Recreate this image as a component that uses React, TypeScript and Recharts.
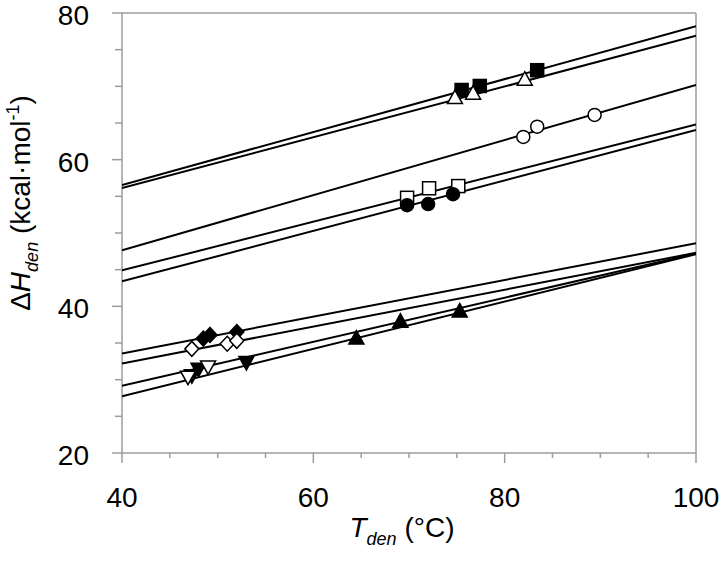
import { Label, ReferenceLine, Scatter, ScatterChart, XAxis, YAxis } from 'recharts'

if (typeof document !== 'undefined') document.body.style.margin = '0'

const AXIS = '#9c9c9c'
const FONT = '"Liberation Sans", Arial, sans-serif'

// x-axis ticks (T_den, °C) and y-axis ticks (ΔH_den, kcal/mol)
const X_TICKS = [40, 45, 50, 55, 60, 65, 70, 75, 80, 85, 90, 95, 100]
const Y_TICKS = [20, 25, 30, 35, 40, 45, 50, 55, 60, 65, 70, 75, 80]

// linear fits: value at T=40 and at T=100
const FIT_X = [40, 100]
const FIT_START = [56.55, 56.13, 47.65, 44.9, 43.4, 33.58, 32.21, 29.16, 27.75]
const FIT_END = [78.2, 76.9, 70.2, 64.8, 64.05, 48.6, 47.3, 47.2, 47.1]

const filledSquareT = [75.5, 77.4, 83.4]
const filledSquareH = [69.5, 70.05, 72.2]
const openTriUpT = [74.8, 76.7, 82.1]
const openTriUpH = [68.4, 69.0, 70.9]
const openCircleT = [81.95, 83.4, 89.4]
const openCircleH = [63.1, 64.5, 66.1]
const openSquareT = [69.8, 72.1, 75.15]
const openSquareH = [54.8, 56.1, 56.4]
const filledCircleT = [69.8, 72.0, 74.6]
const filledCircleH = [53.8, 53.95, 55.3]
const filledDiamondT = [48.5, 49.2, 52.0]
const filledDiamondH = [35.6, 36.1, 36.5]
const openDiamondT = [47.3, 51.0, 52.0]
const openDiamondH = [34.2, 34.9, 35.3]
const filledTriDownT = [47.3, 48.0, 53.0]
const filledTriDownH = [30.6, 31.5, 32.4]
const openTriDownT = [46.9, 49.0]
const openTriDownH = [30.4, 31.8]
const filledTriUpT = [64.5, 69.1, 75.3]
const filledTriUpH = [35.6, 37.9, 39.3]

type Pt = { x: number; y: number }
const zip = (xs: number[], ys: number[]): Pt[] => xs.map((x, i) => ({ x, y: ys[i] }))

type Kind = 'square' | 'circle' | 'triUp' | 'triDown' | 'diamond'

function marker(kind: Kind, filled: boolean) {
  return (props: any) => {
    const { cx, cy } = props
    const fill = filled ? '#000' : '#fff'
    const common = { fill, stroke: '#000', strokeWidth: 1.5 }
    if (kind === 'square') return <rect x={cx - 6.5} y={cy - 6.5} width={13} height={13} {...common} />
    if (kind === 'circle') return <circle cx={cx} cy={cy} r={6.5} {...common} />
    if (kind === 'diamond')
      return <polygon points={`${cx},${cy - 7.5} ${cx + 7},${cy} ${cx},${cy + 7.5} ${cx - 7},${cy}`} {...common} />
    if (kind === 'triUp')
      return <polygon points={`${cx},${cy - 8} ${cx + 7.5},${cy + 5.5} ${cx - 7.5},${cy + 5.5}`} {...common} />
    return <polygon points={`${cx},${cy + 8} ${cx + 7.5},${cy - 5.5} ${cx - 7.5},${cy - 5.5}`} {...common} />
  }
}

const SERIES: Array<{ name: string; data: Pt[]; kind: Kind; filled: boolean }> = [
  { name: 'filledSquare', data: zip(filledSquareT, filledSquareH), kind: 'square', filled: true },
  { name: 'openTriUp', data: zip(openTriUpT, openTriUpH), kind: 'triUp', filled: false },
  { name: 'openCircle', data: zip(openCircleT, openCircleH), kind: 'circle', filled: false },
  { name: 'openSquare', data: zip(openSquareT, openSquareH), kind: 'square', filled: false },
  { name: 'filledCircle', data: zip(filledCircleT, filledCircleH), kind: 'circle', filled: true },
  { name: 'filledDiamond', data: zip(filledDiamondT, filledDiamondH), kind: 'diamond', filled: true },
  { name: 'openDiamond', data: zip(openDiamondT, openDiamondH), kind: 'diamond', filled: false },
  { name: 'filledTriDown', data: zip(filledTriDownT, filledTriDownH), kind: 'triDown', filled: true },
  { name: 'openTriDown', data: zip(openTriDownT, openTriDownH), kind: 'triDown', filled: false },
  { name: 'filledTriUp', data: zip(filledTriUpT, filledTriUpH), kind: 'triUp', filled: true },
]

function XTick({ x, y, payload }: any) {
  const v = payload.value
  const major = v % 20 === 0
  return (
    <g>
      <line x1={x} x2={x} y1={y} y2={y + (major ? 10 : 5)} stroke={AXIS} strokeWidth={1.5} />
      {major && (
        <text x={x} y={y + 54} textAnchor="middle" fontSize={28} fontFamily={FONT} fill="#000">
          {v}
        </text>
      )}
    </g>
  )
}

function YTick({ x, y, payload }: any) {
  const v = payload.value
  const major = v % 20 === 0
  return (
    <g>
      <line x1={x - (major ? 10 : 7)} x2={x} y1={y} y2={y} stroke={AXIS} strokeWidth={1.5} />
      {major && (
        <text x={x - 33} y={y + 12} textAnchor="end" fontSize={28} fontFamily={FONT} fill="#000">
          {v}
        </text>
      )}
    </g>
  )
}

function XTitle({ viewBox }: any) {
  const cx = viewBox.x + viewBox.width / 2 - 7
  return (
    <text x={cx} y={viewBox.y + 84} textAnchor="middle" fontSize={28} fontFamily={FONT} fill="#000">
      <tspan fontStyle="italic">T</tspan>
      <tspan fontStyle="italic" fontSize={18} dy={8}>den</tspan>
      <tspan dy={-8}> (°C)</tspan>
    </text>
  )
}

function YTitle({ viewBox }: any) {
  const cy = viewBox.y + viewBox.height / 2 - 30
  const x = 30
  return (
    <text
      x={x}
      y={cy}
      transform={`rotate(-90 ${x} ${cy})`}
      textAnchor="middle"
      fontSize={28}
      fontFamily={FONT}
      fill="#000"
    >
      <tspan>Δ</tspan>
      <tspan fontStyle="italic">H</tspan>
      <tspan fontStyle="italic" fontSize={18} dy={8}>den</tspan>
      <tspan dy={-8}> (kcal·mol</tspan>
      <tspan fontSize={18} dy={-11}>-1</tspan>
      <tspan dy={11}>)</tspan>
    </text>
  )
}

export default function App() {
  return (
    <ScatterChart width={720} height={565} margin={{ top: 13, right: 24, bottom: 0, left: 0 }}>
      <XAxis
        type="number"
        dataKey="x"
        domain={[40, 100]}
        ticks={X_TICKS}
        interval={0}
        height={112}
        tickSize={0}
        tickMargin={0}
        tickLine={false}
        axisLine={{ stroke: AXIS, strokeWidth: 1.5 }}
        tick={XTick}
        allowDataOverflow
      >
        <Label content={XTitle} />
      </XAxis>
      <YAxis
        type="number"
        dataKey="y"
        domain={[20, 80]}
        ticks={Y_TICKS}
        interval={0}
        width={122}
        tickSize={0}
        tickMargin={0}
        tickLine={false}
        axisLine={{ stroke: AXIS, strokeWidth: 1.5 }}
        tick={YTick}
        allowDataOverflow
      >
        <Label content={YTitle} />
      </YAxis>
      <ReferenceLine y={80} stroke={AXIS} strokeWidth={1.5} />
      <ReferenceLine x={100} stroke={AXIS} strokeWidth={1.5} />
      {FIT_START.map((start, i) => (
        <Scatter
          key={`fit${i}`}
          data={zip(FIT_X, [start, FIT_END[i]])}
          line={{ stroke: '#000', strokeWidth: 2 }}
          shape={() => <g />}
          isAnimationActive={false}
        />
      ))}
      {SERIES.map((s) => (
        <Scatter
          key={s.name}
          name={s.name}
          data={s.data}
          shape={marker(s.kind, s.filled)}
          isAnimationActive={false}
        />
      ))}
    </ScatterChart>
  )
}
